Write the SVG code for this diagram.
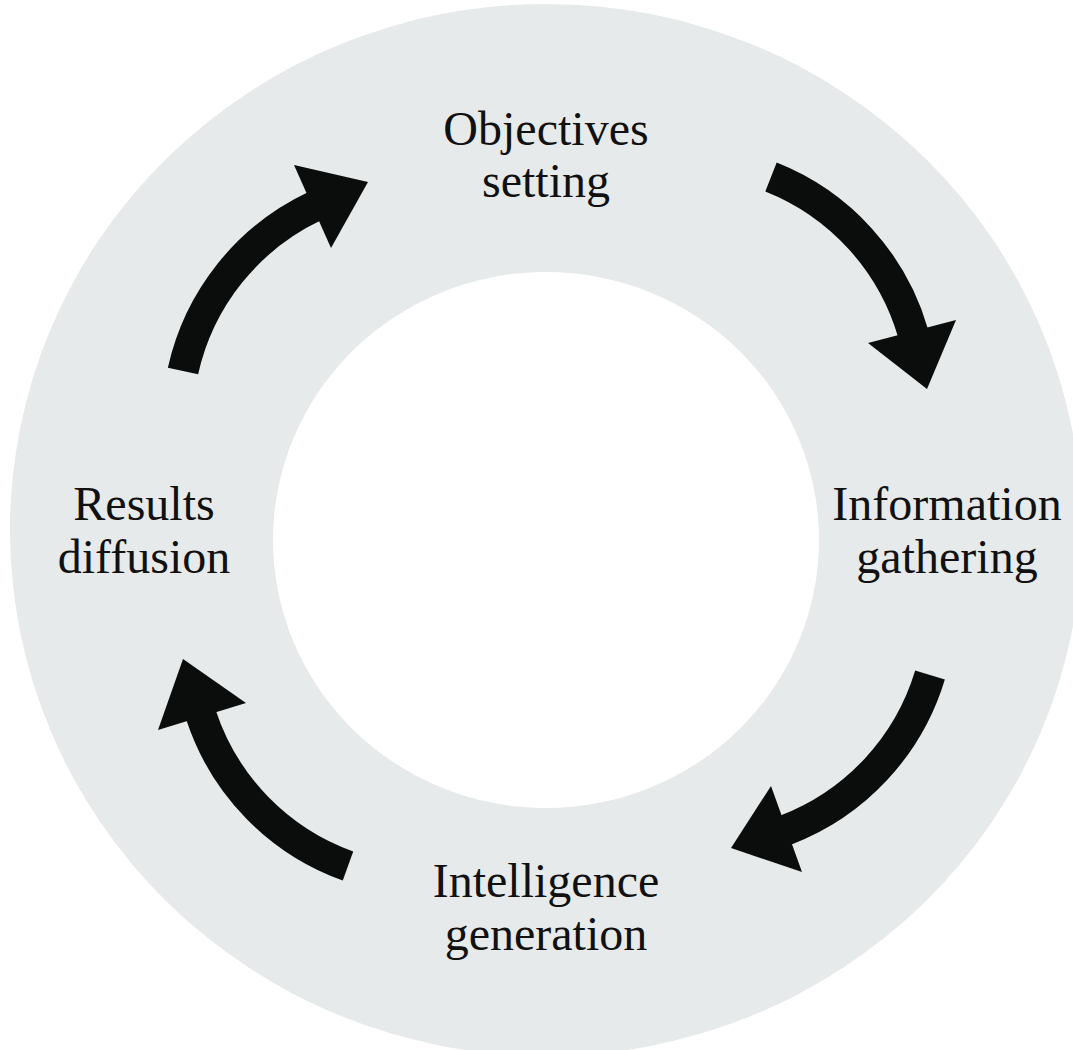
<svg xmlns="http://www.w3.org/2000/svg" width="1073" height="1050" viewBox="0 0 1073 1050">
  <style>
    .lbl { font-family: "Liberation Serif", "Times New Roman", serif; font-size: 48px; fill: #111111; text-anchor: middle; }
    .shaft { fill: none; stroke: #0b0d0c; stroke-width: 31; stroke-linecap: butt; }
    .head { fill: #0b0d0c; }
  </style>
  <rect width="1073" height="1050" fill="#ffffff"/>
  <g id="ring">
    <ellipse cx="546" cy="530" rx="536" ry="526" fill="#e7eaea"/>
    <ellipse cx="546" cy="540" rx="273" ry="268" fill="#ffffff"/>
  </g>
  <g id="connectors">
    <g id="arrow-results-objectives">
      <path class="shaft" d="M183,371 A240,240 0 0 1 315,206"/>
      <polygon class="head" points="294,165 368,182 331,248"/>
    </g>
    <g id="arrow-objectives-information">
      <path class="shaft" d="M771,177 A240,240 0 0 1 913,333"/>
      <polygon class="head" points="868,343 927,389 956,320"/>
    </g>
    <g id="arrow-information-intelligence">
      <path class="shaft" d="M930,675 A240,240 0 0 1 786,830"/>
      <polygon class="head" points="771,786 731,848 802,872"/>
    </g>
    <g id="arrow-intelligence-results">
      <path class="shaft" d="M348,866 A240,240 0 0 1 201,715"/>
      <polygon class="head" points="158,730 183,659 246,703"/>
    </g>
  </g>
  <g id="node-objectives">
    <text class="lbl" x="546" y="145">Objectives</text>
    <text class="lbl" x="546" y="197">setting</text>
  </g>
  <g id="node-information">
    <text class="lbl" x="947" y="520">Information</text>
    <text class="lbl" x="947" y="573">gathering</text>
  </g>
  <g id="node-intelligence">
    <text class="lbl" x="546" y="897">Intelligence</text>
    <text class="lbl" x="546" y="950">generation</text>
  </g>
  <g id="node-results">
    <text class="lbl" x="144" y="520">Results</text>
    <text class="lbl" x="144" y="573">diffusion</text>
  </g>
</svg>
